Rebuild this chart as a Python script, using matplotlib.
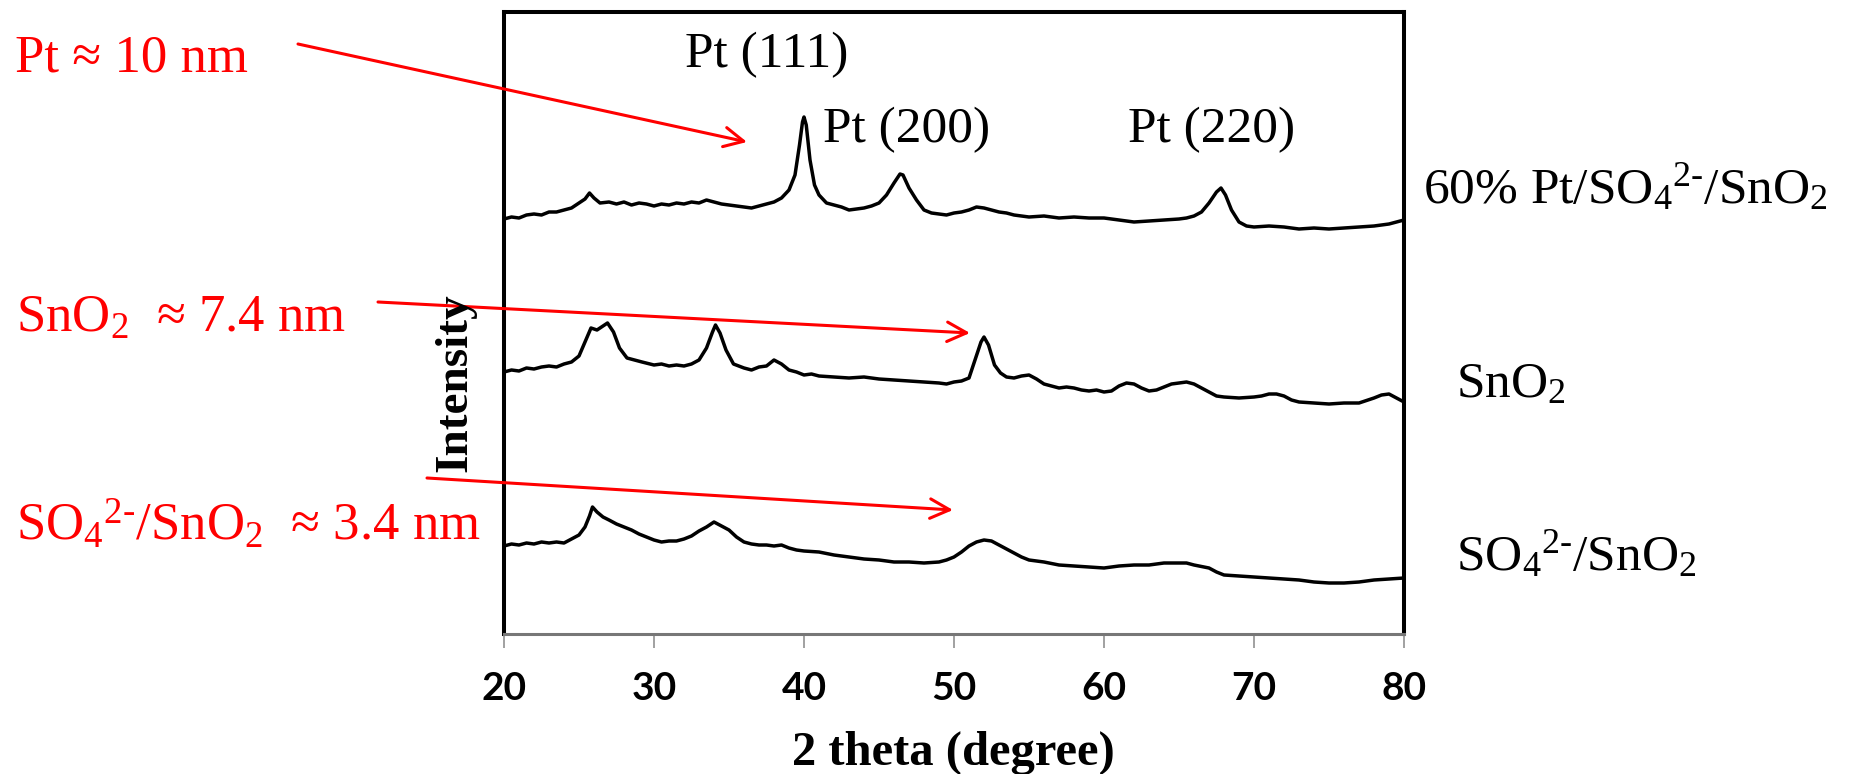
import matplotlib
matplotlib.use("Agg")
import matplotlib.pyplot as plt
from matplotlib.patches import FancyArrowPatch

plt.rcParams['mathtext.fontset'] = 'custom'
plt.rcParams['mathtext.rm'] = 'Liberation Serif'
plt.rcParams['mathtext.it'] = 'Liberation Serif:italic'
plt.rcParams['mathtext.bf'] = 'Liberation Serif:bold'

# ---------------- data (2 theta, intensity a.u.) ----------------
pt_x = [20.0, 20.5, 21.0, 21.5, 22.0, 22.5, 23.0, 23.5, 24.0, 24.5, 25.0, 25.4, 25.7, 26.0, 26.4,
        27.0, 27.5, 28.0, 28.5, 29.0, 29.5, 30.0, 30.5, 31.0, 31.5, 32.0, 32.5, 33.0, 33.5, 34.0,
        34.5, 35.0, 35.5, 36.0, 36.5, 37.0, 37.5, 38.0, 38.5, 39.0, 39.4, 39.7, 39.9, 40.0, 40.15,
        40.4, 40.7, 41.0, 41.5, 42.0, 42.5, 43.0, 43.5, 44.0, 44.5, 45.0, 45.5, 46.0, 46.4, 46.6,
        47.0, 47.5, 48.0, 48.5, 49.0, 49.5, 50.0, 50.5, 51.0, 51.5, 52.0, 52.5, 53.0, 53.5, 54.0,
        55.0, 56.0, 57.0, 58.0, 59.0, 60.0, 60.5, 61.0, 62.0, 63.0, 64.0, 65.0, 65.5, 66.0, 66.5,
        67.0, 67.5, 67.8, 68.1, 68.5, 69.0, 69.5, 70.0, 71.0, 72.0, 73.0, 74.0, 75.0, 76.0, 77.0,
        78.0, 79.0, 79.5, 80.0]
pt_y = [415, 417, 416, 419, 420, 419, 422, 422, 424, 426, 431, 435, 441, 436, 431,
        432, 430, 432, 429, 431, 430, 428, 430, 429, 431, 430, 432, 431, 434, 432,
        430, 429, 428, 427, 426, 428, 430, 432, 436, 444, 459, 489, 512, 517, 509,
        474, 449, 439, 431, 429, 427, 424, 425, 426, 428, 431, 439, 451, 460, 459,
        446, 434, 424, 421, 420, 419, 421, 422, 424, 427, 426, 424, 422, 421, 419,
        417, 418, 416, 417, 416, 416, 415, 414, 412, 413, 414, 415, 416, 418, 422,
        431, 442, 446, 439, 424, 412, 408, 407, 408, 407, 405, 406, 405, 406, 407,
        408, 410, 412, 414]

sno2_x = [20.0, 20.5, 21.0, 21.5, 22.0, 22.5, 23.0, 23.5, 24.0, 24.5, 25.0, 25.4, 25.8, 26.2, 26.5,
          26.9, 27.3, 27.7, 28.2, 28.7, 29.2, 30.0, 30.5, 31.0, 31.5, 32.0, 32.5, 33.0, 33.5, 33.9,
          34.1, 34.4, 34.8, 35.3, 36.0, 36.5, 37.0, 37.5, 38.0, 38.5, 39.0, 39.5, 40.0, 40.5, 41.0,
          42.0, 43.0, 44.0, 45.0, 46.0, 47.0, 48.0, 49.0, 49.5, 50.0, 50.5, 51.0, 51.4, 51.8, 52.0,
          52.3, 52.7, 53.1, 53.5, 54.0, 54.5, 55.0, 55.5, 56.0, 56.5, 57.0, 57.5, 58.0, 58.5, 59.0,
          59.5, 60.0, 60.5, 61.0, 61.5, 62.0, 62.5, 63.0, 63.5, 64.0, 64.5, 65.0, 65.5, 66.0, 66.5,
          67.0, 67.5, 68.0, 69.0, 70.0, 70.5, 71.0, 71.5, 72.0, 72.5, 73.0, 74.0, 75.0, 76.0, 77.0,
          78.0, 78.5, 79.0, 79.5, 80.0]
sno2_y = [262, 264, 263, 266, 265, 267, 268, 267, 270, 272, 278, 292, 306, 304, 307,
          311, 302, 286, 276, 274, 272, 269, 270, 268, 269, 268, 270, 274, 286, 302,
          309, 301, 284, 270, 266, 264, 267, 268, 274, 270, 264, 262, 259, 260, 258,
          257, 256, 257, 255, 254, 253, 252, 251, 250, 252, 253, 256, 274, 292, 297,
          289, 269, 261, 257, 256, 258, 259, 255, 250, 248, 246, 247, 246, 244, 243,
          244, 242, 243, 248, 251, 250, 246, 243, 244, 247, 250, 251, 252, 250, 246,
          242, 238, 237, 236, 237, 238, 240, 240, 238, 234, 232, 231, 230, 231, 231,
          236, 239, 240, 236, 232]

so4_x = [20.0, 20.5, 21.0, 21.5, 22.0, 22.5, 23.0, 23.5, 24.0, 24.5, 25.0, 25.4, 25.7, 25.9, 26.2,
         26.6, 27.0, 27.5, 28.0, 28.5, 29.0, 29.5, 30.0, 30.5, 31.0, 31.5, 32.0, 32.5, 33.0, 33.5,
         34.0, 34.5, 35.0, 35.5, 36.0, 36.5, 37.0, 37.5, 38.0, 38.5, 39.0, 39.5, 40.0, 41.0, 42.0,
         43.0, 44.0, 45.0, 46.0, 47.0, 48.0, 49.0, 49.5, 50.0, 50.5, 51.0, 51.5, 52.0, 52.5, 53.0,
         53.5, 54.0, 54.5, 55.0, 56.0, 57.0, 58.0, 59.0, 60.0, 60.5, 61.0, 62.0, 63.0, 64.0, 65.0,
         65.5, 66.0, 67.0, 67.5, 68.0, 69.0, 70.0, 71.0, 72.0, 73.0, 74.0, 75.0, 76.0, 77.0, 78.0,
         79.0, 80.0]
so4_y = [88, 90, 89, 91, 90, 92, 91, 92, 91, 95, 99, 107, 118, 127, 122,
         117, 114, 110, 107, 104, 100, 97, 94, 92, 93, 93, 95, 98, 103, 107,
         112, 108, 104, 97, 92, 90, 89, 89, 88, 89, 86, 84, 83, 82, 79,
         77, 75, 74, 72, 72, 71, 72, 74, 77, 82, 88, 92, 94, 93, 89,
         85, 81, 77, 74, 72, 69, 68, 67, 66, 67, 68, 69, 69, 71, 71,
         71, 69, 66, 62, 59, 58, 57, 56, 55, 54, 52, 51, 51, 52, 54,
         55, 56]

x_ticks = [20, 30, 40, 50, 60, 70, 80]
x_label = "2 theta (degree)"
y_label = "Intensity"
peak_labels = ["Pt (111)", "Pt (200)", "Pt (220)"]
sample_labels = [r"60% Pt/SO$_4$$^{2\text{-}}$/SnO$_2$", r"SnO$_2$", r"SO$_4$$^{2\text{-}}$/SnO$_2$"]
size_labels = [r"Pt ≈ 10 nm", r"SnO$_2$  ≈ 7.4 nm", r"SO$_4$$^{2\text{-}}$/SnO$_2$  ≈ 3.4 nm"]

# ---------------- figure ----------------
W, H = 1850, 774
fig = plt.figure(figsize=(W / 100, H / 100), dpi=100)
ax = fig.add_axes([504 / W, 1 - 634 / H, (1404 - 504) / W, (634 - 12) / H])

for xs, ys in [(pt_x, pt_y), (sno2_x, sno2_y), (so4_x, so4_y)]:
    ax.plot(xs, ys, color='black', lw=2.5, solid_joinstyle='round')

ax.set_xlim(20, 80)
ax.set_ylim(0, 622)
ax.set_yticks([])
ax.set_xticks(x_ticks)
ax.set_xticklabels([str(t) for t in x_ticks], fontfamily='Lato', fontweight='bold', fontsize=28)
ax.tick_params(axis='x', direction='out', length=10, width=1.1, color='#888888', pad=17)
for s in ['top', 'left', 'right']:
    ax.spines[s].set_linewidth(2.9)
    ax.spines[s].set_color('black')
ax.spines['bottom'].set_linewidth(2.2)
ax.spines['bottom'].set_color('#777777')


def ftext(x, y, s, **kw):
    fig.text(x / W, 1 - y / H, s, **kw)


serif = 'Liberation Serif'
ftext(953, 765, x_label, ha='center', va='baseline', fontfamily=serif, fontweight='bold', fontsize=35)
ftext(455, 383, y_label, ha='center', va='center', rotation=90, fontfamily=serif, fontweight='bold', fontsize=34)

# peak labels
ftext(685, 67, peak_labels[0], ha='left', va='baseline', fontfamily=serif, fontsize=37)
ftext(823, 142, peak_labels[1], ha='left', va='baseline', fontfamily=serif, fontsize=37)
ftext(1128, 142, peak_labels[2], ha='left', va='baseline', fontfamily=serif, fontsize=37)

# sample labels
ftext(1423, 203, sample_labels[0], ha='left', va='baseline', fontfamily=serif, fontsize=37)
ftext(1456, 397, sample_labels[1], ha='left', va='baseline', fontfamily=serif, fontsize=37)
ftext(1456, 570, sample_labels[2], ha='left', va='baseline', fontfamily=serif, fontsize=37)

# red size labels
ftext(15, 71, size_labels[0], ha='left', va='baseline', fontfamily=serif, fontsize=38, color='red')
ftext(16, 332, size_labels[1], ha='left', va='baseline', fontfamily=serif, fontsize=38, color='red')
ftext(16, 540, size_labels[2], ha='left', va='baseline', fontfamily=serif, fontsize=38, color='red')

# red arrows
arrows = [((298, 44), (747, 142)), ((378, 302), (970, 333)), ((427, 478), (953, 510))]
for (x0, y0), (x1, y1) in arrows:
    a = FancyArrowPatch((x0 / W, 1 - y0 / H), (x1 / W, 1 - y1 / H), transform=fig.transFigure,
                        arrowstyle='->,head_length=14,head_width=7', mutation_scale=1,
                        color='red', lw=2.2, shrinkA=0, shrinkB=0)
    fig.add_artist(a)

fig.savefig('out.png', dpi=100)
